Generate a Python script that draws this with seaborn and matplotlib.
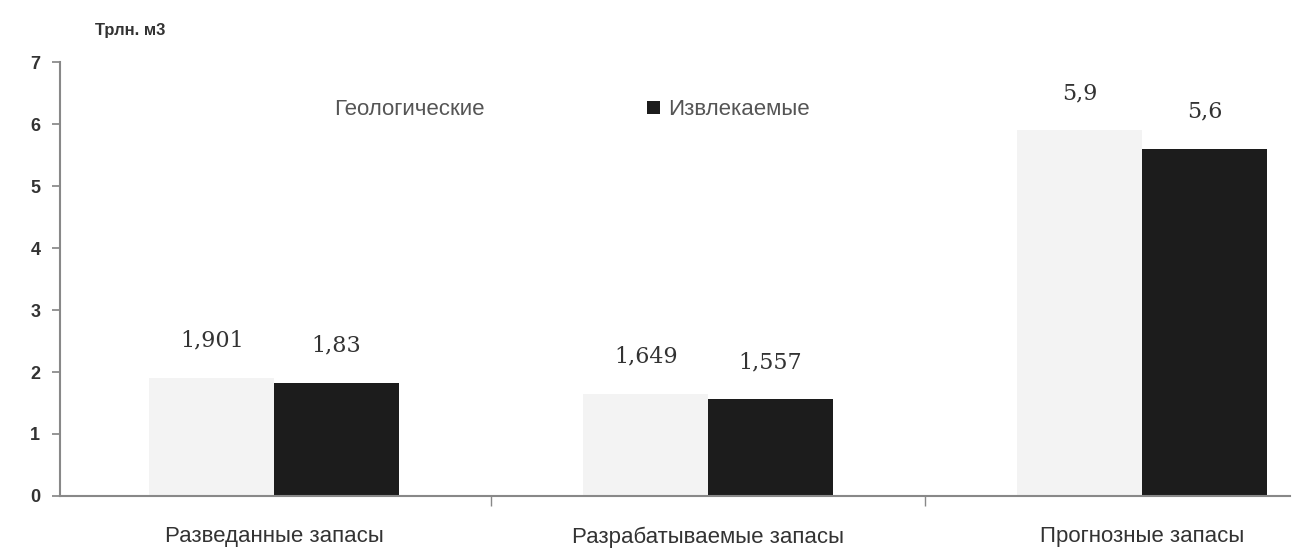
import numpy as np
import pandas as pd
import seaborn as sns
import matplotlib.pyplot as plt
from matplotlib.ticker import FixedLocator

categories = ["Разведанные запасы", "Разрабатываемые запасы", "Прогнозные запасы"]
series = ["Геологические", "Извлекаемые"]
geological = [1.901, 1.649, 5.9]
recoverable = [1.83, 1.557, 5.6]
value_labels = [["1,901", "1,649", "5,9"], ["1,83", "1,557", "5,6"]]

df = pd.DataFrame({
    "category": categories * 2,
    "series": [series[0]] * 3 + [series[1]] * 3,
    "value": geological + recoverable,
})

sns.set_theme(style="white")
plt.rcParams['font.family'] = ['Liberation Sans', 'DejaVu Sans']

fig = plt.figure(figsize=(13, 5.51), dpi=100)
ax = fig.add_axes([0.046, 0.10, 0.946, 0.787])

sns.barplot(data=df, x="category", y="value", hue="series",
            palette=["#f3f3f3", "#1c1c1c"], width=0.575, gap=0,
            edgecolor="none", ax=ax)

ax.set_xlim(-0.494, 2.34)
ax.set_ylim(0, 7)
ax.set_yticks(range(0, 8))
ax.set_xlabel("")
ax.set_ylabel("")

for s, container in enumerate(ax.containers):
    ax.bar_label(container, labels=value_labels[s], padding=19,
                 fontsize=16, color="#333333", family="DejaVu Serif")

for side in ["top", "right"]:
    ax.spines[side].set_visible(False)
for side in ["left", "bottom"]:
    ax.spines[side].set_color("#888888")
    ax.spines[side].set_linewidth(1.5)

ax.tick_params(axis="y", which="major", left=True, length=6, color="#888888",
               labelsize=13, pad=8)
for t in ax.get_yticklabels():
    t.set_fontweight("bold")
    t.set_color("#333333")

ax.tick_params(axis="x", which="major", length=0, labelsize=16, pad=22,
               labelcolor="#333333")
ax.xaxis.set_minor_locator(FixedLocator([0.5, 1.5]))
ax.tick_params(axis="x", which="minor", bottom=True, length=7, color="#888888")

fig.text(0.073, 0.945, "Трлн. м3", fontsize=12, fontweight="bold",
         color="#333333", va="center")

leg = ax.legend(loc="center left", bbox_to_anchor=(0.19, 0.89), ncol=2,
                frameon=False, fontsize=16, columnspacing=7.3,
                handlelength=0.55, handleheight=0.55, handletextpad=0.4)
leg.legend_handles[0].set_visible(False)
for t in leg.get_texts():
    t.set_color("#555555")

fig.savefig("out.png", dpi=100)
